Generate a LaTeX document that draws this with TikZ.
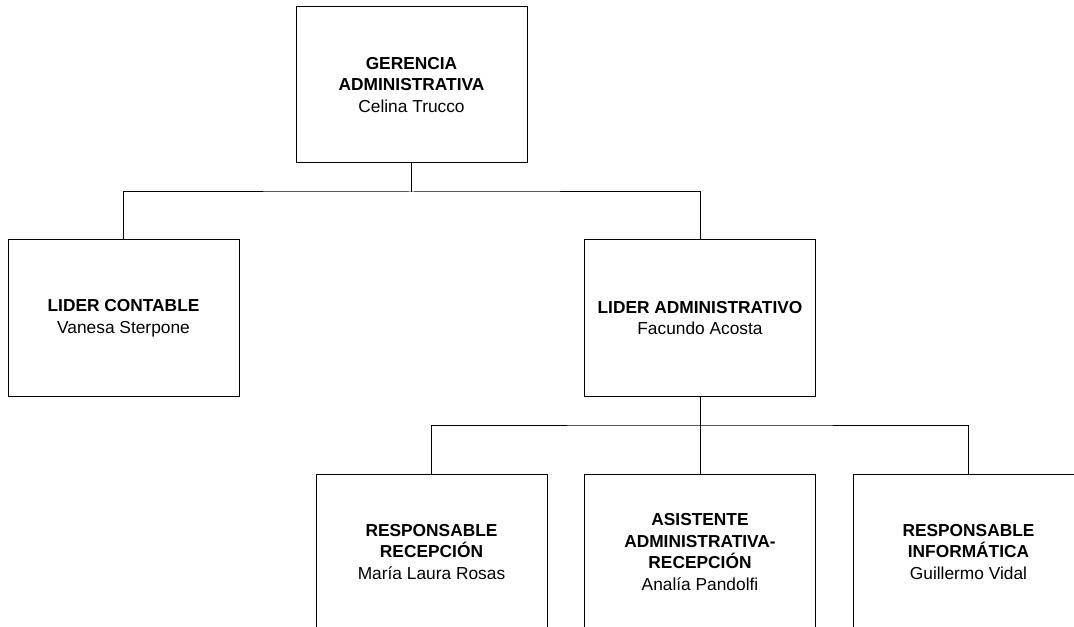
\documentclass[tikz,border=0pt]{standalone}
\usepackage{fontspec}
\setmainfont{Liberation Sans}
\usetikzlibrary{positioning}
\tikzset{
	cargo/.style={draw=black, line width=0.75pt, rectangle, minimum width=173.25pt, minimum height=117pt, align=center, font=\fontsize{13}{16.3}\selectfont, inner sep=0pt},
	linea/.style={line width=0.75pt, color=black}
}
\begin{document}
\begin{tikzpicture}[x=0.75pt, y=-0.75pt]
			%%%%% START %%%%%
			
			\useasboundingbox (0, 0) rectangle (1074, 627);
			\clip (0, 0) rectangle (1074, 627);
			\fill[white] (0, 0) rectangle (1074, 627);
			
			\node[cargo] (gerencia) at (411.5, 85) {\textbf{GERENCIA}\\\textbf{ADMINISTRATIVA}\\Celina Trucco};
			
			\node[cargo] (contable) at (123.5, 318) {\textbf{LIDER CONTABLE}\\Vanesa Sterpone};
			\node[cargo] (admin) at (700, 318) {\textbf{LIDER ADMINISTRATIVO}\\Facundo Acosta};
			
			\node[cargo] (recepcion) at (431.5, 552) {\textbf{RESPONSABLE}\\\textbf{RECEPCIÓN}\\María Laura Rosas};
			\node[cargo] (asistente) at (700, 552) {\textbf{ASISTENTE}\\\textbf{ADMINISTRATIVA-}\\\textbf{RECEPCIÓN}\\Analía Pandolfi};
			\node[cargo] (informatica) at (968.5, 552) {\textbf{RESPONSABLE}\\\textbf{INFORMÁTICA}\\Guillermo Vidal};
			
			\coordinate (bus1) at (411.5, 192);
			\coordinate (bus2) at (700, 425);
			
			\draw[linea] (gerencia.south) -- (bus1);
			\draw[linea] (contable.north) |- (bus1) -| (admin.north);
			
			\draw[linea] (admin.south) -- (bus2);
			\draw[linea] (recepcion.north) |- (bus2) -| (informatica.north);
			\draw[linea] (bus2) -- (asistente.north);
			
			%%%%% END %%%%%
\end{tikzpicture}
\end{document}
